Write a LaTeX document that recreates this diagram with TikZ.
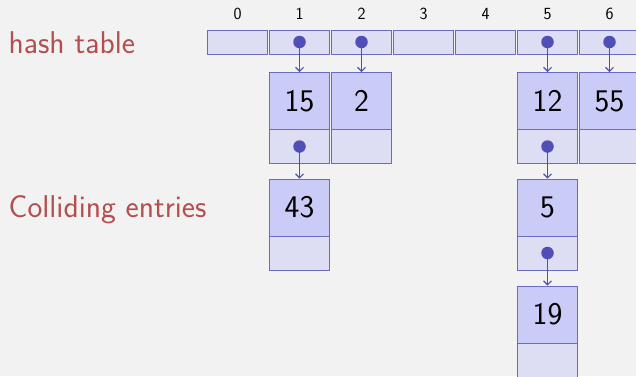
\documentclass[tikz,border=0pt]{standalone}
\usepackage{fontspec}
\usetikzlibrary{arrows.meta}
\definecolor{bg}{HTML}{F2F2F2}
\definecolor{cellfill}{HTML}{DDDDF4}
\definecolor{valfill}{HTML}{CBCBF8}
\definecolor{edgec}{HTML}{6A6AC0}
\definecolor{dotc}{HTML}{4F4FB5}
\definecolor{alertc}{HTML}{B44F4F}
\tikzset{
  cell/.style={draw=edgec, fill=cellfill, line width=0.9pt, minimum width=60.5pt, minimum height=24pt, inner sep=0pt},
  valbox/.style={draw=edgec, fill=valfill, line width=0.9pt, minimum width=60.5pt, minimum height=57pt, inner sep=0pt, font=\sffamily\fontsize{31.5}{33}\selectfont},
  lowbox/.style={draw=edgec, fill=cellfill, line width=0.9pt, minimum width=60.5pt, minimum height=34pt, inner sep=0pt},
  idx/.style={font=\sffamily\fontsize{17}{19}\selectfont, inner sep=0pt},
  dotn/.style={circle, fill=dotc, minimum size=12.5pt, inner sep=0pt},
  ptr/.style={draw=dotc, line width=1.1pt, -{Straight Barb[length=4pt,width=8pt,line width=1.1pt]}},
  lbl/.style={font=\sffamily\fontsize{31.5}{33}\selectfont, text=alertc, anchor=base west, inner sep=0pt}
}
\begin{document}
\begin{tikzpicture}[x=1pt,y=-1pt]
\fill[bg] (0,0) rectangle (636,376);
\useasboundingbox (0,0) rectangle (636,376);
\node[lbl] (ht) at (8.5,53) {hash table};
\node[lbl] (ce) at (8.5,217) {Colliding entries};
\foreach \i in {0,...,6} {
  \node[cell] (c\i) at (237.5+62*\i,42) {};
  \node[idx] (l\i) at (237.5+62*\i,14) {\i};
}
% entries
\node[valbox] (v15) at (299.5,101) {15};
\node[lowbox] (n15) at (299.5,146.5) {};
\node[valbox] (v2) at (361.5,101) {2};
\node[lowbox] (n2) at (361.5,146.5) {};
\node[valbox] (v12) at (547.5,101) {12};
\node[lowbox] (n12) at (547.5,146.5) {};
\node[valbox] (v55) at (609.5,101) {55};
\node[lowbox] (n55) at (609.5,146.5) {};
\node[valbox] (v43) at (299.5,207.5) {43};
\node[lowbox] (n43) at (299.5,253) {};
\node[valbox] (v5) at (547.5,207.5) {5};
\node[lowbox] (n5) at (547.5,253) {};
\node[valbox] (v19) at (547.5,314.5) {19};
\node[lowbox] (n19) at (547.5,360) {};
% pointers
\draw[ptr] (c1.center) -- (v15.north);
\draw[ptr] (c2.center) -- (v2.north);
\draw[ptr] (c5.center) -- (v12.north);
\draw[ptr] (c6.center) -- (v55.north);
\draw[ptr] (n15.center) -- (v43.north);
\draw[ptr] (n12.center) -- (v5.north);
\draw[ptr] (n5.center) -- (v19.north);
\foreach \n in {c1,c2,c5,c6,n15,n12,n5} {
  \node[dotn] (d\n) at (\n.center) {};
}
\end{tikzpicture}
\end{document}
